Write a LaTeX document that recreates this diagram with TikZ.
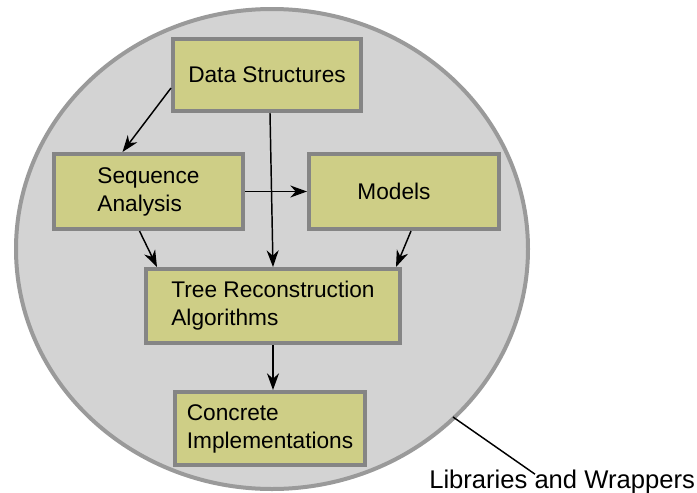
\documentclass[tikz,border=0pt]{standalone}
\usepackage{fontspec}
\setmainfont{Liberation Sans}
\usetikzlibrary{shapes.geometric,arrows.meta}
\definecolor{boxfill}{HTML}{CECE86}
\definecolor{boxline}{HTML}{858585}
\definecolor{bgfill}{HTML}{D3D3D3}
\definecolor{bgline}{HTML}{9A9A9A}
\tikzset{
  modbox/.style={draw=boxline, fill=boxfill, line width=3pt, rectangle, align=left,
    inner sep=0pt, font=\fontsize{17}{21}\selectfont},
  conn/.style={line width=1.1pt, -{Stealth[length=12.5pt,width=9pt,inset=4pt]}},
}
\begin{document}
\begin{tikzpicture}[x=0.75pt,y=-0.75pt]
\useasboundingbox (0,0) rectangle (697,493);
\node[ellipse, draw=bgline, fill=bgfill, line width=3pt, minimum width=384pt, minimum height=360pt, inner sep=0pt] (bg) at (272,249) {};
\node[modbox, minimum width=141pt, minimum height=54pt] (ds) at (267,75) {Data Structures};
\node[modbox, minimum width=141.75pt, minimum height=56.25pt] (sa) at (148.5,191.5) {Sequence\\Analysis};
\node[modbox, minimum width=142.5pt, minimum height=56.25pt] (mo) at (404,191.5) {Models\kern 15pt};
\node[modbox, minimum width=190.5pt, minimum height=55.5pt] (tr) at (273,306) {Tree Reconstruction\\Algorithms};
\node[modbox, minimum width=142.5pt, minimum height=54.75pt] (ci) at (270,428.5) {Concrete\\Implementations};
\node[anchor=base west, inner sep=0pt, font=\fontsize{19.2}{23}\selectfont] (lab) at (429,488) {Libraries and Wrappers};
\coordinate (lw) at (453,417);
\draw[conn] ([shift={(0,13)}]ds.west) -- ([shift={(-26,0)}]sa.north);
\draw[conn] ([shift={(3,0)}]ds.south) -- (tr.north);
\draw[conn] (sa.east) -- (mo.west);
\draw[conn] ([shift={(-9,0)}]sa.south) -- ([shift={(13,0)}]tr.north west);
\draw[conn] ([shift={(7,0)}]mo.south) -- ([shift={(-6,0)}]tr.north east);
\draw[conn] (tr.south) -- (tr.south |- ci.north);
\draw[line width=1.1pt] (lw) -- ([shift={(106,5)}]lab.north west);
\end{tikzpicture}
\end{document}
